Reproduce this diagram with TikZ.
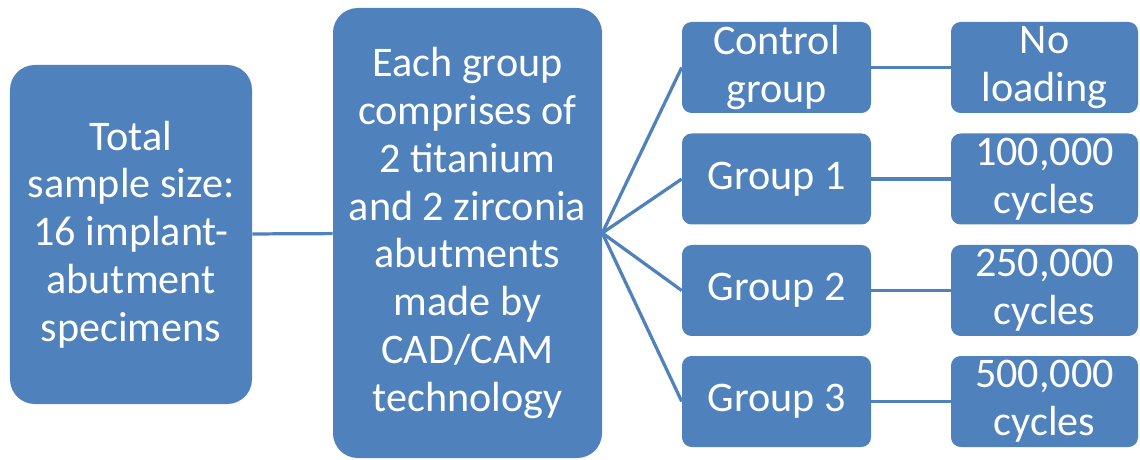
\documentclass[tikz,border=0pt]{standalone}
\usepackage{fontspec}
\setmainfont{Carlito}
\usepackage{tikz}
\usetikzlibrary{positioning}
\definecolor{boxblue}{RGB}{79,129,189}

\begin{document}
\begin{tikzpicture}[
    box/.style={draw=none, fill=boxblue, text=white, align=center,
                inner sep=0pt, font=\fontsize{30}{34}\selectfont},
    bigbox/.style={box, rounded corners=0.62cm},
    smallbox/.style={box, rounded corners=0.24cm,
                     minimum height=2.275cm},
    link/.style={draw=boxblue, line width=2.3pt},
  ]
  \useasboundingbox (0,0) rectangle (28.5,-11.5);

  % --- left side ---
  \node[bigbox, minimum width=6.05cm, minimum height=8.475cm]
    (total) at (3.275,-5.8625)
    {Total\\sample size:\\16 implant-\\abutment\\specimens};
  \node[bigbox, minimum width=6.725cm, minimum height=11.25cm]
    (each) at (11.6875,-5.825)
    {Each group\\comprises of\\2 titanium\\and 2 zirconia\\abutments\\made by\\CAD/CAM\\technology};
  \draw[link] (total) -- (each);

  % --- groups and loading ---
  \foreach \i/\y/\grp/\load in {0/-1.6875/{Control\\group}/{No\\loading},
                                1/-4.475/{Group 1}/{100,000\\cycles},
                                2/-7.2625/{Group 2}/{250,000\\cycles},
                                3/-10.0375/{Group 3}/{500,000\\cycles}} {
    \node[smallbox, minimum width=4.725cm] (grp\i) at (19.4125,\y) {\grp};
    \node[smallbox, minimum width=4.675cm] (load\i) at (26.1125,\y) {\load};
    \draw[link] (each.east) -- (grp\i.west);
    \draw[link] (grp\i) -- (load\i);
  }
\end{tikzpicture}
\end{document}
